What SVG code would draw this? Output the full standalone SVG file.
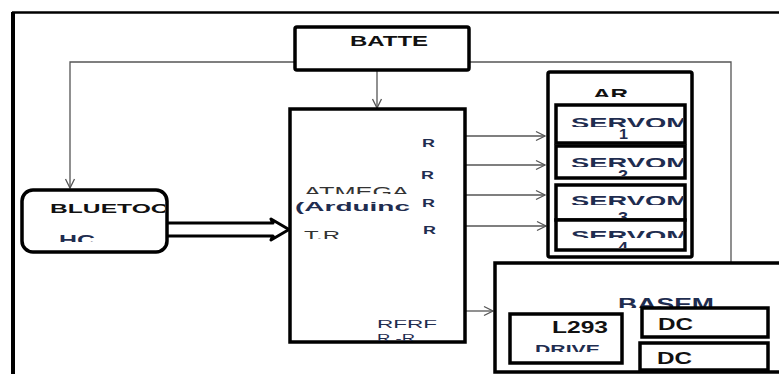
<svg xmlns="http://www.w3.org/2000/svg" width="779" height="374" viewBox="0 0 779 374">
<style>
.box{fill:#fff;stroke:#000;stroke-width:3.5}
.thin{fill:none;stroke:#555;stroke-width:1.3}
.b{font-family:"Liberation Sans",Arial,sans-serif;font-weight:bold}
.r{font-family:"Liberation Sans",Arial,sans-serif}
.navy{fill:#1f2d50}
.blk{fill:#111}
</style>
<defs>
<marker id="v" markerWidth="12" markerHeight="12" refX="10" refY="6" orient="auto" markerUnits="userSpaceOnUse">
<path d="M1,1.5 L10,6 L1,10.5" fill="none" stroke="#555" stroke-width="1.3"/>
</marker>
<marker id="sm" markerWidth="8" markerHeight="8" refX="1" refY="4" orient="auto" markerUnits="userSpaceOnUse">
<path d="M7,0.5 L1,4 L7,7.5" fill="none" stroke="#000" stroke-width="2"/>
</marker>
<clipPath id="cBT"><rect x="22" y="190" width="143" height="60"/></clipPath>
<clipPath id="cHC"><rect x="22" y="190" width="143" height="52"/></clipPath>
<clipPath id="cAT"><rect x="290" y="109" width="175" height="85"/></clipPath>
<clipPath id="cTR"><rect x="290" y="220" width="120" height="19"/></clipPath>
<clipPath id="cAB"><rect x="290" y="109" width="175" height="232"/></clipPath>
<clipPath id="cARt"><rect x="548" y="72" width="144" height="25"/></clipPath>
<clipPath id="cS1"><rect x="556" y="105" width="127" height="22"/></clipPath>
<clipPath id="cS1n"><rect x="556" y="127.5" width="127" height="13.5"/></clipPath>
<clipPath id="cS2"><rect x="556" y="146" width="127" height="21"/></clipPath>
<clipPath id="cS2n"><rect x="556" y="167.5" width="127" height="8.5"/></clipPath>
<clipPath id="cS3"><rect x="556" y="185" width="127" height="20"/></clipPath>
<clipPath id="cS3n"><rect x="556" y="205.5" width="127" height="12.5"/></clipPath>
<clipPath id="cS4"><rect x="556" y="220" width="127" height="18"/></clipPath>
<clipPath id="cS4n"><rect x="556" y="238.5" width="127" height="9.5"/></clipPath>
<clipPath id="cBA"><rect x="495" y="263" width="284" height="45"/></clipPath>
<clipPath id="cDR"><rect x="510" y="314" width="112" height="38"/></clipPath>
</defs>
<rect x="0" y="0" width="779" height="374" fill="#fff"/>

<g id="frame">
<line x1="13" y1="12" x2="13" y2="374" stroke="#000" stroke-width="4"/>
<line x1="12" y1="12.5" x2="779" y2="12.5" stroke="#000" stroke-width="2.5"/>
</g>

<g id="connectors">
<polyline class="thin" points="295,62 70,62 70,188" marker-end="url(#v)"/>
<line class="thin" x1="377" y1="70" x2="377" y2="108" marker-end="url(#v)"/>
<polyline class="thin" points="469,62 731,62 731,288 573,288 573,312" marker-end="url(#v)"/>
<line class="thin" x1="466" y1="136" x2="545" y2="136" marker-end="url(#v)"/>
<line class="thin" x1="466" y1="165" x2="545" y2="165" marker-end="url(#v)"/>
<line class="thin" x1="466" y1="195" x2="545" y2="195" marker-end="url(#v)"/>
<line class="thin" x1="466" y1="226" x2="546" y2="226" marker-end="url(#v)"/>
<line class="thin" x1="466" y1="311" x2="493" y2="311" marker-end="url(#v)"/>
<path d="M167,223 L273,223 L271,219 L289,229.5 L271,240 L273,236 L167,236" fill="#fff" stroke="#000" stroke-width="3" stroke-linejoin="round"/>
<line x1="641" y1="325" x2="625" y2="325" stroke="#000" stroke-width="3" marker-end="url(#sm)"/>
<line x1="639" y1="351" x2="625" y2="351" stroke="#000" stroke-width="3" marker-end="url(#sm)"/>
</g>

<g id="battery">
<rect class="box" x="295" y="27" width="174" height="43" rx="2"/>
<text class="b blk" x="350" y="46" font-size="15" textLength="78" lengthAdjust="spacingAndGlyphs">BATTE</text>
</g>

<g id="bluetooth">
<rect class="box" x="22" y="190" width="145" height="62" rx="11"/>
<text class="b blk" x="50" y="212.5" font-size="13" textLength="120" lengthAdjust="spacingAndGlyphs" clip-path="url(#cBT)">BLUETOO</text>
<text class="b navy" x="59" y="245" font-size="14" textLength="36" lengthAdjust="spacingAndGlyphs" clip-path="url(#cHC)">HC</text>
</g>

<g id="arduino">
<rect class="box" x="290" y="109" width="175" height="233"/>
<text class="r" x="304" y="197" font-size="14" fill="#333" textLength="105" lengthAdjust="spacingAndGlyphs" clip-path="url(#cAT)">ATMEGA</text>
<text class="b navy" x="295" y="211" font-size="13" textLength="115" lengthAdjust="spacingAndGlyphs">(Arduinc</text>
<text class="r" x="304" y="240" font-size="13" fill="#333" textLength="36" lengthAdjust="spacingAndGlyphs" clip-path="url(#cTR)">T.R</text>
<text class="b navy" x="422" y="147" font-size="10" textLength="13" lengthAdjust="spacingAndGlyphs">R</text>
<text class="b navy" x="421" y="179" font-size="10" textLength="13" lengthAdjust="spacingAndGlyphs">R</text>
<text class="b navy" x="422" y="207" font-size="10" textLength="13" lengthAdjust="spacingAndGlyphs">R</text>
<text class="b navy" x="423" y="234" font-size="10" textLength="13" lengthAdjust="spacingAndGlyphs">R</text>
<text class="r navy" x="377" y="328" font-size="11" textLength="60" lengthAdjust="spacingAndGlyphs">RFRF</text>
<text class="r navy" x="377" y="342" font-size="11" textLength="38" lengthAdjust="spacingAndGlyphs" clip-path="url(#cAB)">R -R</text>
</g>

<g id="servo-group">
<rect class="box" x="548" y="72" width="144" height="185" rx="2" stroke-width="4"/>
<text class="b blk" x="593" y="99" font-size="14" textLength="35" lengthAdjust="spacingAndGlyphs" clip-path="url(#cARt)">AR</text>
</g>

<g id="servo1">
<rect class="box" x="556" y="105" width="129" height="38"/>
<text class="b navy" x="571" y="128" font-size="15" textLength="118" lengthAdjust="spacingAndGlyphs" clip-path="url(#cS1)">SERVOM</text>
<text class="b navy" x="619" y="138.5" font-size="14" textLength="9" lengthAdjust="spacingAndGlyphs" clip-path="url(#cS1n)">1</text>
</g>
<g id="servo2">
<rect class="box" x="556" y="146" width="129" height="32"/>
<text class="b navy" x="571" y="168" font-size="15" textLength="118" lengthAdjust="spacingAndGlyphs" clip-path="url(#cS2)">SERVOM</text>
<text class="b navy" x="618" y="180" font-size="14" textLength="10" lengthAdjust="spacingAndGlyphs" clip-path="url(#cS2n)">2</text>
</g>
<g id="servo3">
<rect class="box" x="556" y="185" width="129" height="35"/>
<text class="b navy" x="571" y="206" font-size="15" textLength="118" lengthAdjust="spacingAndGlyphs" clip-path="url(#cS3)">SERVOM</text>
<text class="b navy" x="618" y="222" font-size="14" textLength="10" lengthAdjust="spacingAndGlyphs" clip-path="url(#cS3n)">3</text>
</g>
<g id="servo4">
<rect class="box" x="556" y="220" width="129" height="30"/>
<text class="b navy" x="571" y="241" font-size="15" textLength="118" lengthAdjust="spacingAndGlyphs" clip-path="url(#cS4)">SERVOM</text>
<text class="b navy" x="618" y="252" font-size="14" textLength="10" lengthAdjust="spacingAndGlyphs" clip-path="url(#cS4n)">4</text>
</g>

<g id="base">
<rect class="box" x="495" y="263" width="300" height="109" stroke-width="4"/>
<text class="b navy" x="618" y="310" font-size="16" textLength="96" lengthAdjust="spacingAndGlyphs" clip-path="url(#cBA)">BASEM</text>
</g>

<g id="l293">
<rect class="box" x="510" y="314" width="112" height="49"/>
<text class="b blk" x="552" y="333" font-size="16.5" textLength="56" lengthAdjust="spacingAndGlyphs">L293</text>
<text class="b navy" x="535" y="354" font-size="13" textLength="65" lengthAdjust="spacingAndGlyphs" clip-path="url(#cDR)">DRIVE</text>
</g>

<g id="dc1">
<rect class="box" x="642" y="308" width="126" height="29"/>
<text class="b blk" x="658" y="330" font-size="16" textLength="35" lengthAdjust="spacingAndGlyphs">DC</text>
</g>
<g id="dc2">
<rect class="box" x="640" y="343" width="128" height="27"/>
<text class="b blk" x="657" y="364" font-size="16" textLength="35" lengthAdjust="spacingAndGlyphs">DC</text>
</g>
</svg>
